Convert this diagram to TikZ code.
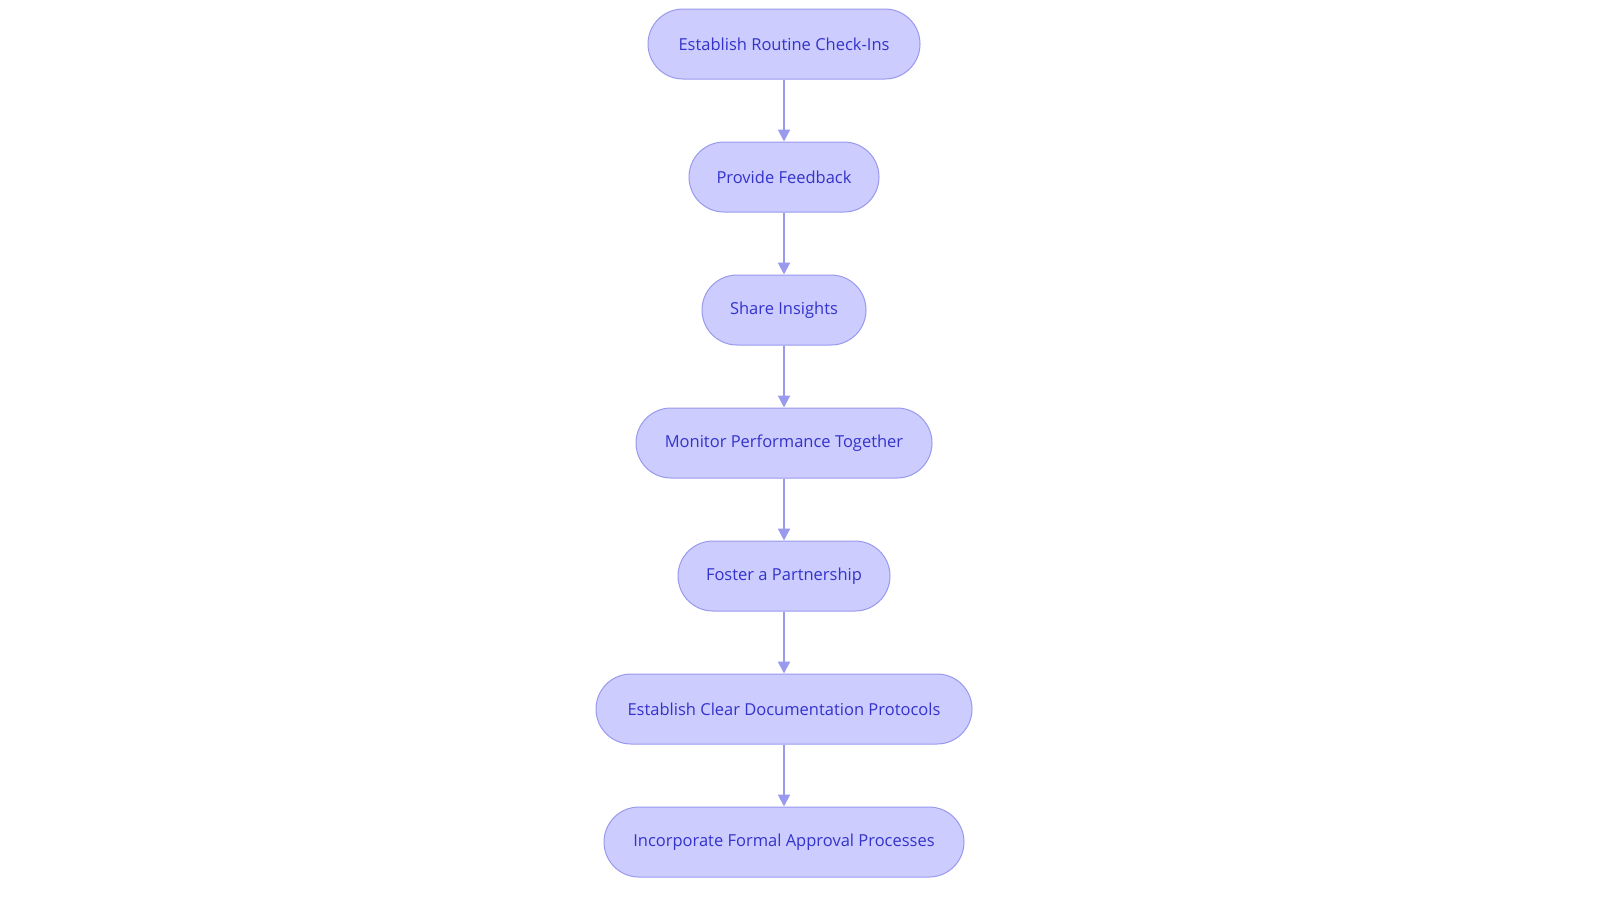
\documentclass[tikz,border=0pt]{standalone}
\usepackage{fontspec}
\setmainfont{Open Sans}
\usetikzlibrary{positioning}
\usetikzlibrary{arrows.meta}
\definecolor{stepfill}{HTML}{CCCCFF}
\definecolor{stepline}{HTML}{9999EE}
\definecolor{steptext}{HTML}{3333CC}

\begin{document}
\begin{tikzpicture}[x = 1pt, y = 1pt, node distance = 62pt,
  stage/.style = {draw = stepline, fill = stepfill, text = steptext,
    rounded corners = 35pt, minimum height = 70pt, line width = 1pt,
    font = \fontsize{16.5}{19}\selectfont},
  flow/.style = {draw = stepline, line width = 2pt,
    -{Triangle[length = 12pt, width = 12pt]}}]
  \useasboundingbox (0, 0) rectangle (1600, -903);

  \node[stage, minimum width = 272pt] (checkins) at (784, -44) {Establish Routine Check-Ins};
  \node[stage, minimum width = 190pt, below = of checkins] (feedback) {Provide Feedback};
  \node[stage, minimum width = 164pt, below = of feedback] (insights) {Share Insights};
  \node[stage, minimum width = 296pt, below = of insights] (monitor) {Monitor Performance Together};
  \node[stage, minimum width = 212pt, below = of monitor] (partner) {Foster a Partnership};
  \node[stage, minimum width = 376pt, below = of partner] (docs) {Establish Clear Documentation Protocols};
  \node[stage, minimum width = 360pt, below = of docs] (approval) {Incorporate Formal Approval Processes};

  \draw[flow] (checkins) -- (feedback);
  \draw[flow] (feedback) -- (insights);
  \draw[flow] (insights) -- (monitor);
  \draw[flow] (monitor) -- (partner);
  \draw[flow] (partner) -- (docs);
  \draw[flow] (docs) -- (approval);
\end{tikzpicture}
\end{document}
